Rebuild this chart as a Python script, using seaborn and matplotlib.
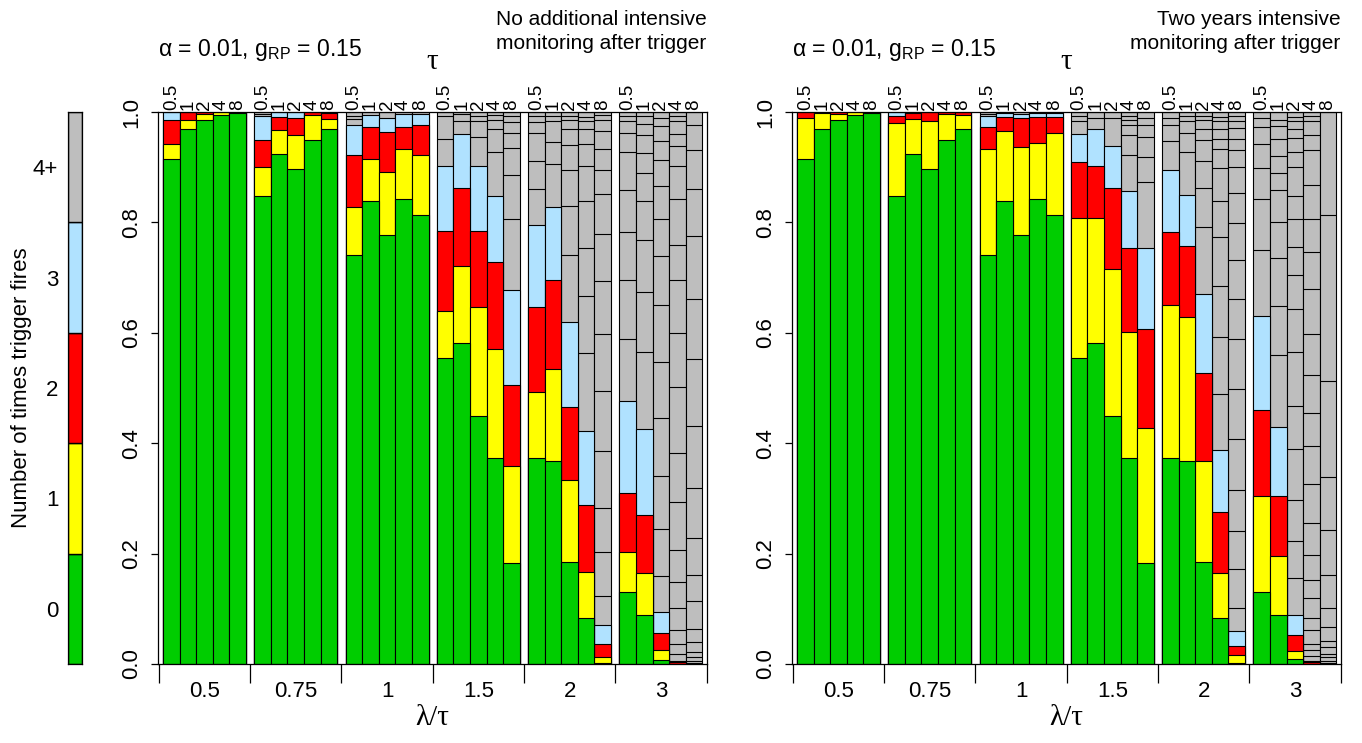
import numpy as np
import matplotlib
matplotlib.use("Agg")
import matplotlib.pyplot as plt
import seaborn as sns

# ---------------- data ----------------
lambda_ratio = ["0.5", "0.75", "1", "1.5", "2", "3"]
tau_labels = ["0.5", "1", "2", "4", "8"]
count_labels = ["0", "1", "2", "3", "4+"]
count_colors = ["#00CD00", "#FFFF00", "#FF0000", "#B0E2FF", "#BEBEBE"]

# cumulative tops of categories 0,1,2,3 (groups of lambda/tau, 5 tau values each)
noint_top0 = [0.915, 0.969, 0.986, 0.995, 0.999, 0.848, 0.924, 0.897, 0.950, 0.969,
              0.741, 0.839, 0.778, 0.843, 0.813, 0.555, 0.582, 0.450, 0.374, 0.183,
              0.374, 0.368, 0.185, 0.083, 0.001, 0.130, 0.088, 0.008, 0.0, 0.0]
noint_top1 = [0.942, 0.985, 0.997, 1.0, 1.0, 0.900, 0.968, 0.958, 0.995, 0.988,
              0.828, 0.915, 0.892, 0.933, 0.922, 0.639, 0.721, 0.646, 0.571, 0.359,
              0.492, 0.535, 0.334, 0.166, 0.012, 0.202, 0.164, 0.026, 0.0, 0.0]
noint_top2 = [0.985, 1.0, 1.0, 1.0, 1.0, 0.950, 0.991, 0.990, 1.0, 0.998,
              0.922, 0.973, 0.964, 0.973, 0.977, 0.784, 0.863, 0.785, 0.729, 0.506,
              0.646, 0.696, 0.466, 0.288, 0.036, 0.310, 0.270, 0.057, 0.003, 0.0]
noint_top3 = [1.0, 1.0, 1.0, 1.0, 1.0, 0.992, 1.0, 1.0, 1.0, 1.0,
              0.977, 0.994, 0.990, 0.997, 0.997, 0.902, 0.960, 0.902, 0.848, 0.678,
              0.795, 0.828, 0.619, 0.423, 0.071, 0.476, 0.426, 0.095, 0.006, 0.002]
# cumulative tops of the 4, 5, 6, ... segments (inside the grey 4+ block)
noint_grey = [
    [], [], [], [], [],
    [0.997], [], [], [], [],
    [0.987, 0.993], [], [], [], [],
    [0.951, 0.993], [0.983, 0.997], [0.954, 0.984, 0.993], [0.927, 0.969, 0.986, 0.995],
    [0.807, 0.886, 0.934, 0.962, 0.981, 0.993],
    [0.861, 0.912, 0.962, 0.981, 0.992], [0.906, 0.946, 0.983, 0.993],
    [0.741, 0.830, 0.895, 0.940, 0.970, 0.986, 0.993],
    [0.563, 0.667, 0.754, 0.838, 0.903, 0.942, 0.969, 0.984, 0.991],
    [0.123, 0.202, 0.282, 0.386, 0.494, 0.598, 0.693, 0.779, 0.852, 0.895, 0.933, 0.965, 0.986, 0.995],
    [0.589, 0.695, 0.783, 0.859, 0.927, 0.962, 0.983, 0.992],
    [0.565, 0.674, 0.769, 0.839, 0.889, 0.926, 0.958, 0.979, 0.992],
    [0.160, 0.244, 0.340, 0.445, 0.548, 0.650, 0.739, 0.806, 0.866, 0.913, 0.948, 0.974, 0.990],
    [0.019, 0.036, 0.062, 0.102, 0.148, 0.207, 0.293, 0.383, 0.502, 0.599, 0.695, 0.759, 0.842,
     0.903, 0.938, 0.960, 0.983, 0.993],
    [0.005, 0.012, 0.022, 0.040, 0.064, 0.114, 0.161, 0.228, 0.319, 0.431, 0.552, 0.662, 0.776,
     0.860, 0.931, 0.976],
]

twoyr_top0 = [0.915, 0.969, 0.985, 0.995, 0.998, 0.848, 0.924, 0.897, 0.950, 0.969,
              0.741, 0.839, 0.778, 0.843, 0.813, 0.555, 0.582, 0.450, 0.374, 0.183,
              0.374, 0.368, 0.184, 0.083, 0.001, 0.130, 0.088, 0.009, 0.0, 0.0]
twoyr_top1 = [0.989, 0.998, 0.997, 1.0, 1.0, 0.980, 0.988, 0.984, 0.997, 0.994,
              0.933, 0.965, 0.937, 0.944, 0.962, 0.808, 0.808, 0.716, 0.602, 0.427,
              0.650, 0.628, 0.368, 0.164, 0.017, 0.305, 0.195, 0.023, 0.0, 0.0]
twoyr_top2 = [1.0, 1.0, 1.0, 1.0, 1.0, 0.992, 0.998, 1.0, 1.0, 1.0,
              0.972, 0.991, 0.990, 0.991, 0.991, 0.910, 0.902, 0.863, 0.753, 0.607,
              0.783, 0.757, 0.528, 0.275, 0.033, 0.461, 0.305, 0.052, 0.003, 0.0]
twoyr_top3 = [1.0, 1.0, 1.0, 1.0, 1.0, 1.0, 1.0, 1.0, 1.0, 1.0,
              0.992, 0.998, 0.997, 0.998, 0.998, 0.960, 0.969, 0.938, 0.857, 0.753,
              0.895, 0.850, 0.671, 0.388, 0.059, 0.630, 0.430, 0.088, 0.006, 0.002]
twoyr_grey = [
    [], [], [], [], [],
    [], [], [], [], [],
    [0.997], [], [], [], [],
    [0.983, 0.993], [0.990], [0.990], [0.923, 0.958, 0.976, 0.986, 0.993],
    [0.874, 0.919, 0.955, 0.977, 0.990],
    [0.948, 0.976, 0.990], [0.927, 0.962, 0.983, 0.993],
    [0.791, 0.863, 0.911, 0.950, 0.969, 0.986, 0.993],
    [0.490, 0.593, 0.685, 0.773, 0.838, 0.898, 0.933, 0.951, 0.969, 0.983, 0.991],
    [0.102, 0.173, 0.241, 0.315, 0.407, 0.499, 0.589, 0.662, 0.731, 0.799, 0.853, 0.901, 0.931,
     0.951, 0.971, 0.984, 0.992],
    [0.750, 0.842, 0.898, 0.942, 0.972, 0.990],
    [0.560, 0.648, 0.736, 0.801, 0.858, 0.890, 0.920, 0.951, 0.974, 0.986],
    [0.155, 0.222, 0.298, 0.390, 0.468, 0.565, 0.644, 0.705, 0.756, 0.806, 0.847, 0.901, 0.927,
     0.953, 0.969, 0.983, 0.991],
    [0.015, 0.026, 0.036, 0.062, 0.083, 0.119, 0.153, 0.197, 0.255, 0.326, 0.395, 0.454, 0.524,
     0.598, 0.679, 0.747, 0.807, 0.868, 0.932, 0.958, 0.983, 0.993],
    [0.005, 0.012, 0.019, 0.031, 0.042, 0.067, 0.101, 0.162, 0.243, 0.339, 0.513, 0.813],
]

panel_titles = ["No additional intensive\nmonitoring after trigger",
                "Two years intensive\nmonitoring after trigger"]
param_text = "α = 0.01, g$_{\\mathrm{RP}}$ = 0.15"

# ---------------- style ----------------
sns.set_theme(style="ticks")
plt.rcParams["font.family"] = ["Liberation Sans", "DejaVu Sans"]
plt.rcParams["mathtext.fontset"] = "custom"
plt.rcParams["mathtext.rm"] = "Liberation Sans"
plt.rcParams["mathtext.it"] = "Liberation Sans:italic"
plt.rcParams["mathtext.sf"] = "Liberation Sans"
plt.rcParams["axes.edgecolor"] = "black"
plt.rcParams["axes.linewidth"] = 0.9
plt.rcParams["text.color"] = "black"
plt.rcParams["xtick.color"] = "black"
plt.rcParams["ytick.color"] = "black"
plt.rcParams["xtick.labelcolor"] = "black"
plt.rcParams["ytick.labelcolor"] = "black"

W, H = 1362, 743
fig = plt.figure(figsize=(W / 100, H / 100), dpi=100)

n_grp, n_tau, gap = len(lambda_ratio), len(tau_labels), 0.5
pos = np.array([g * (n_tau + gap) + i + 0.5 for g in range(n_grp) for i in range(n_tau)])
grp_centers = np.array([g * (n_tau + gap) + n_tau / 2 for g in range(n_grp)])
bounds = np.array([-0.25] + [g * (n_tau + gap) + n_tau + gap / 2 for g in range(n_grp - 1)] + [32.75])

ax_b, ax_h, ax_w = 1 - 664 / H, 552 / H, 549 / W
panel_lefts = [157.5 / W, 791.5 / W]

panels = [
    ([noint_top0, noint_top1, noint_top2, noint_top3], noint_grey),
    ([twoyr_top0, twoyr_top1, twoyr_top2, twoyr_top3], twoyr_grey),
]

for k, ((tops, greys), left) in enumerate(zip(panels, panel_lefts)):
    ax = fig.add_axes([left, ax_b, ax_w, ax_h])
    layers = [np.ones(len(pos))] + [np.array(t) for t in tops[::-1]]
    cols = [count_colors[4], count_colors[3], count_colors[2], count_colors[1], count_colors[0]]
    for h, c in zip(layers, cols):
        sns.barplot(x=pos, y=h, native_scale=True, width=1, color=c, saturation=1,
                    edgecolor="black", linewidth=0.8, errorbar=None, orient="x", ax=ax)
    for p, lines in zip(pos, greys):
        if lines:
            ax.hlines(lines, p - 0.5, p + 0.5, colors="black", lw=0.8, zorder=3)

    ax.set_xlim(-0.33, 32.7)
    ax.set_ylim(0, 1)
    for s in ax.spines.values():
        s.set_visible(True)
        s.set_color("black")
        s.set_linewidth(0.9)
    ax.set_yticks(np.linspace(0, 1, 6))
    ax.set_yticklabels([f"{v:.1f}" for v in np.linspace(0, 1, 6)], rotation=90, va="center")
    ax.tick_params(axis="y", length=5, width=0.9, pad=6, labelsize=16, colors="black")
    ax.set_xticks(bounds)
    ax.set_xticklabels([])
    ax.set_xticks(grp_centers, minor=True)
    ax.set_xticklabels(lambda_ratio, minor=True)
    ax.tick_params(axis="x", which="major", length=14, width=0.9, colors="black")
    ax.tick_params(axis="x", which="minor", length=0, pad=12, labelsize=16, colors="black")
    ax.set_xlabel("")
    ax.set_ylabel("")

    sec = ax.secondary_xaxis("top")
    sec.set_xticks(pos)
    sec.set_xticklabels(tau_labels * n_grp, rotation=90)
    sec.tick_params(length=0, pad=1.5, labelsize=13.5, colors="black")
    sec.spines["top"].set_visible(False)

    cx = left + ax_w / 2
    fig.text(cx, 1 - 718 / H, "λ/τ", ha="center", va="center",
             family=["Liberation Serif", "DejaVu Serif"], fontsize=21)
    fig.text(cx, 1 - 62 / H, "τ", ha="center", va="center",
             family=["Liberation Serif", "DejaVu Serif"], fontsize=21)
    fig.text(left + 1 / W, 1 - 56 / H, param_text, ha="left", va="baseline", fontsize=16.5)
    fig.text(left + ax_w, 1 - 31.5 / H, panel_titles[k], ha="right", va="center",
             fontsize=15, linespacing=1.3)

# ---------------- colour key ----------------
lax = fig.add_axes([68 / W, ax_b, 14 / W, ax_h])
lax.bar([0] * 5, [1] * 5, bottom=np.arange(5), width=1, color=count_colors,
        edgecolor="black", linewidth=1.0)
lax.set_xlim(-0.5, 0.5)
lax.set_ylim(0, 5)
lax.set_xticks([])
lax.set_yticks(np.arange(5) + 0.5)
lax.set_yticklabels(count_labels)
lax.tick_params(axis="y", length=0, pad=7, labelsize=16, colors="black")
for s in lax.spines.values():
    s.set_visible(True)
    s.set_color("black")
    s.set_linewidth(0.9)
fig.text(22 / W, 1 - 388 / H, "Number of times trigger fires", rotation=90,
         ha="center", va="center", fontsize=16)

fig.savefig("out.png", dpi=100)
